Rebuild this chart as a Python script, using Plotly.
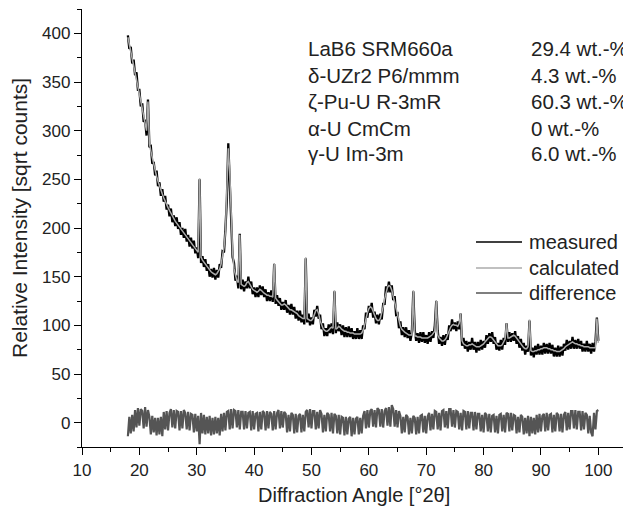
import numpy as np
import plotly.graph_objects as go

# 2-theta grid: 18.00 ... 100.00 deg, step 0.25 deg
two_theta = np.round(np.arange(18.0, 100.0001, 0.25), 2)

calculated = [
    396, 389, 382, 375, 368, 361, 354, 347, 339, 331, 323, 315, 307, 300, 330, 287, 279, 272, 265, 259,
    253, 248, 243, 239, 235, 231, 227, 224, 221, 218, 215, 212, 209, 207, 205, 203, 201, 199, 197, 195,
    193, 191, 189, 187, 185, 183, 181, 179, 177, 175, 251, 170, 167, 165, 162, 160, 158, 156, 155, 154,
    153, 152, 153, 155, 158, 163, 170, 180, 196, 235, 282, 258, 205, 175, 158, 150, 146, 144, 193, 142,
    141, 140, 141, 144, 145, 142, 139, 137, 136, 135, 134, 135, 137, 136, 134, 133, 132, 131, 131, 130,
    130, 129, 164, 128, 126, 124, 122, 121, 121, 122, 121, 119, 117, 116, 116, 115, 114, 113, 112, 110,
    109, 108, 107, 107, 170, 107, 106, 105, 105, 107, 111, 115, 116, 112, 105, 100, 97, 95, 94, 94,
    95, 97, 98, 97, 136, 96, 97, 99, 98, 96, 95, 94, 94, 93, 93, 92, 92, 92, 91, 91,
    91, 91, 91, 92, 95, 100, 107, 113, 117, 119, 118, 114, 110, 107, 105, 105, 107, 112, 119, 127,
    134, 139, 141, 140, 136, 130, 124, 116, 109, 103, 99, 96, 94, 93, 92, 91, 90, 90, 90, 136,
    89, 89, 88, 88, 88, 87, 87, 87, 87, 87, 88, 89, 90, 92, 94, 126, 90, 87, 85, 84,
    84, 85, 87, 91, 95, 98, 100, 101, 100, 100, 99, 102, 112, 84, 81, 80, 79, 79, 80, 80,
    81, 80, 79, 78, 78, 78, 79, 80, 81, 83, 85, 87, 88, 88, 87, 85, 83, 81, 79, 79,
    79, 80, 83, 86, 102, 87, 87, 88, 89, 90, 89, 87, 85, 82, 80, 78, 77, 76, 76, 78,
    106, 74, 73, 73, 74, 74, 75, 75, 76, 76, 77, 77, 77, 76, 76, 75, 75, 74, 74, 73,
    73, 73, 74, 75, 76, 78, 79, 80, 81, 82, 83, 82, 81, 81, 80, 80, 79, 79, 78, 78,
    78, 78, 77, 77, 77, 77, 77, 107, 82,
]

measured = [
    398, 384, 386, 369, 373, 357, 360, 342, 342, 325, 328, 309, 311, 295, 332, 283, 284, 266, 268, 254,
    259, 243, 247, 233, 240, 227, 233, 219, 224, 212, 220, 206, 213, 202, 211, 199, 206, 193, 200, 190,
    199, 186, 193, 181, 190, 179, 187, 174, 180, 169, 250, 164, 171, 160, 168, 156, 163, 150, 158, 149,
    159, 147, 157, 149, 163, 159, 176, 175, 199, 229, 287, 252, 209, 170, 164, 146, 151, 138, 194, 137,
    147, 135, 145, 138, 150, 138, 145, 132, 139, 129, 139, 129, 141, 131, 140, 129, 137, 125, 134, 125,
    136, 124, 163, 122, 131, 120, 128, 116, 124, 116, 126, 113, 121, 111, 122, 111, 119, 107, 115, 105,
    115, 103, 111, 101, 169, 103, 112, 100, 108, 101, 116, 109, 120, 107, 111, 96, 102, 89, 97, 89,
    101, 92, 102, 91, 135, 92, 103, 94, 101, 90, 100, 88, 98, 88, 99, 88, 97, 86, 94, 86,
    97, 86, 95, 86, 100, 96, 113, 108, 120, 113, 123, 108, 114, 102, 111, 101, 112, 106, 122, 122,
    140, 134, 145, 134, 141, 126, 130, 111, 112, 97, 104, 90, 98, 88, 98, 87, 95, 84, 93, 135,
    95, 84, 92, 82, 93, 83, 93, 82, 90, 81, 93, 83, 94, 87, 100, 125, 95, 81, 88, 79,
    90, 80, 91, 85, 100, 94, 106, 96, 103, 94, 104, 96, 112, 79, 87, 76, 84, 73, 83, 75,
    87, 75, 83, 72, 83, 74, 85, 75, 84, 77, 90, 81, 92, 83, 93, 81, 88, 75, 82, 74,
    85, 75, 87, 80, 102, 83, 93, 83, 92, 84, 94, 81, 89, 77, 86, 74, 82, 70, 79, 73,
    105, 69, 77, 67, 79, 70, 81, 70, 79, 70, 82, 71, 81, 71, 82, 71, 80, 68, 77, 68,
    79, 68, 78, 69, 81, 74, 85, 75, 84, 76, 88, 76, 85, 76, 86, 76, 84, 73, 81, 73,
    84, 73, 81, 71, 82, 73, 83, 108, 84,
]

difference = [
    -14, 6, -11, 8, -9, 13, -5, 15, -3, 14, 12, -6, 16, -4, 13, 6, -12, 7, -10, 5,
    -13, 5, -12, 6, -14, 11, -7, 12, -8, 10, 14, -5, 13, -6, 12, 11, -8, 12, -6, 13,
    10, -7, 11, -8, 9, 8, -10, 9, -9, 7, -22, 10, -11, 8, -12, 6, -11, 7, -13, 5,
    -12, 6, -11, 5, -13, 9, -9, 10, -8, 11, 12, -7, 14, -6, 13, 12, -5, 13, -7, 11,
    11, -7, 12, -6, 10, 11, -8, 12, -7, 9, 10, -9, 11, -7, 12, 10, -8, 12, -6, 11,
    9, -8, 12, -7, 10, 13, -6, 12, -5, 11, 9, -10, 8, -9, 10, 8, -11, 9, -10, 7,
    9, -10, 8, -9, 11, 13, -5, 14, -6, 12, 12, -7, 11, -6, 13, 9, -10, 8, -9, 10,
    8, -9, 10, -11, 9, 7, -11, 8, -12, 6, 5, -13, 6, -12, 4, 6, -14, 5, -12, 4,
    6, -12, 5, -11, 7, 12, -6, 13, -5, 12, 14, -4, 13, -5, 15, 13, -4, 14, -5, 12,
    15, -3, 16, -4, 18, 14, -4, 13, -5, 12, 7, -11, 6, -10, 8, 6, -12, 5, -11, 7,
    5, -12, 6, -11, 7, 8, -10, 7, -11, 6, 10, -8, 9, -7, 12, 11, -7, 10, -8, 12,
    13, -5, 12, -6, 14, 14, -4, 13, -5, 12, 11, -7, 10, -8, 12, 11, -7, 12, -6, 10,
    10, -8, 11, -7, 9, 9, -9, 8, -10, 10, 8, -9, 9, -10, 7, 8, -10, 7, -11, 8,
    9, -9, 8, -10, 10, 9, -9, 10, -8, 8, 7, -11, 6, -10, 8, 6, -12, 5, -11, 7,
    -14, 6, -11, 5, -12, 8, -10, 9, -9, 7, 9, -9, 10, -8, 8, 9, -10, 8, -9, 10,
    8, -9, 9, -10, 8, 11, -8, 10, -7, 12, 12, -6, 13, -7, 11, 11, -8, 12, -7, 10,
    8, -11, 7, -10, -14, 10, -7, 12, 13,
]

phase_names = ["LaB6 SRM660a", "δ-UZr2 P6/mmm", "ζ-Pu-U R-3mR", "α-U CmCm", "γ-U Im-3m"]
phase_wt = ["29.4 wt.-%", "4.3 wt.-%", "60.3 wt.-%", "0 wt.-%", "6.0 wt.-%"]
series_names = ["measured", "calculated", "difference"]
series_colors = ["#000000", "#ababab", "#555555"]
series_widths = [2.3, 1.5, 2.2]

FONT = "Arial, Liberation Sans, sans-serif"
TXT = "#222222"

# The page body has an 8 px margin, so the figure is made 8 px smaller and
# positions (given in the 631x507 picture's pixels) are shifted by 8 px.
OFF = 8
W, H = 631 - OFF, 507 - OFF
L, T = 82 - OFF, 9 - OFF
R = W - (627 - OFF)
B = H - (447 - OFF)
PW, PH = W - L - R, H - T - B


def px(xp):
    return (xp - OFF - L) / PW


def py(yp):
    return (H - B - (yp - OFF)) / PH


fig = go.Figure()
for name, ys, col, lw in zip(series_names, [measured, calculated, difference], series_colors, series_widths):
    fig.add_trace(go.Scatter(x=two_theta, y=ys, mode="lines", name=name,
                             line=dict(color=col, width=lw), showlegend=False))

# phase table
row_y = [48, 75, 102, 128, 153]
for name, wt, yy in zip(phase_names, phase_wt, row_y):
    fig.add_annotation(x=px(306), y=py(yy), xref="paper", yref="paper", text=name, showarrow=False,
                       xanchor="left", yanchor="middle", font=dict(family=FONT, size=20.5, color=TXT))
    fig.add_annotation(x=px(529), y=py(yy), xref="paper", yref="paper", text=wt, showarrow=False,
                       xanchor="left", yanchor="middle", font=dict(family=FONT, size=20.5, color=TXT))

# legend (drawn as line samples + labels)
leg_y = [242, 268, 293]
for name, col, yy in zip(series_names, series_colors, leg_y):
    fig.add_shape(type="line", xref="paper", yref="paper", x0=px(476), x1=px(522), y0=py(yy), y1=py(yy),
                  line=dict(color=col, width=1.3))
    fig.add_annotation(x=px(527), y=py(yy), xref="paper", yref="paper", text=name, showarrow=False,
                       xanchor="left", yanchor="middle", font=dict(family=FONT, size=20, color=TXT))

# axis titles
fig.add_annotation(x=px(354), y=py(495), xref="paper", yref="paper", text="Diffraction Angle [°2θ]",
                   showarrow=False, xanchor="center", yanchor="middle",
                   font=dict(family=FONT, size=20, color=TXT))
fig.add_annotation(x=px(20), y=py(218), xref="paper", yref="paper", text="Relative Intensity [sqrt counts]",
                   showarrow=False, xanchor="center", yanchor="middle", textangle=-90,
                   font=dict(family=FONT, size=21, color=TXT))

axis_common = dict(showline=True, linecolor="#000000", linewidth=1.3, ticks="outside",
                   ticklen=7, tickwidth=1.3, tickcolor="#000000", showgrid=False, zeroline=False,
                   mirror=False, tickfont=dict(family=FONT, size=17, color=TXT))

fig.update_layout(
    width=W, height=H,
    margin=dict(l=L, r=R, t=T, b=B),
    paper_bgcolor="white", plot_bgcolor="white",
    font=dict(family=FONT, color=TXT),
    xaxis=dict(range=[10, 105], dtick=10, tick0=10,
               minor=dict(ticks="outside", ticklen=4, dtick=5, tickwidth=1.3, tickcolor="#000000"),
               **axis_common),
    yaxis=dict(range=[-25, 425], dtick=50, tick0=0,
               minor=dict(ticks="outside", ticklen=4, dtick=25, tickwidth=1.3, tickcolor="#000000"),
               **axis_common),
    showlegend=False,
)

fig.write_html("out.html")
